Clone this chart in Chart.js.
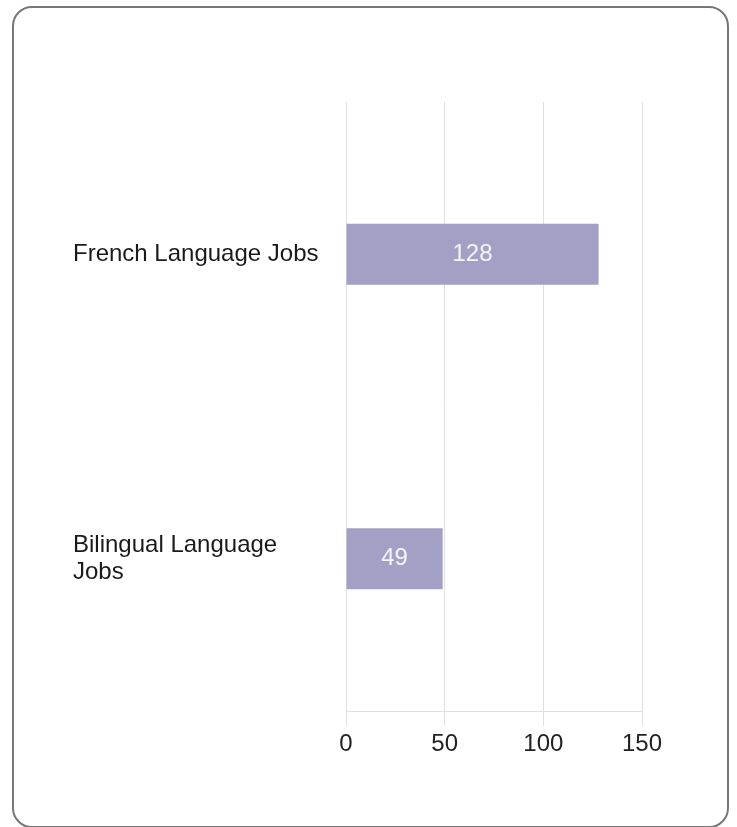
<!DOCTYPE html>
<html>
<head>
<meta charset="utf-8">
<script src="https://cdn.jsdelivr.net/npm/chart.js@4"></script>
<style>
  body { margin: 0; background: #fff; }
  .card {
    position: absolute; left: 12px; top: 6px;
    width: 717px; height: 822px; box-sizing: border-box;
    border: 2px solid #777; border-radius: 20px;
  }
  #chart { position: absolute; left: 0; top: 0; }
</style>
</head>
<body>
<div class="card"></div>
<canvas id="chart" width="737" height="827"></canvas>
<script>
// --- Dades ---
const categories = ['French Language Jobs', ['Bilingual Language', 'Jobs']];
const jobCounts = [128, 49];
const xTicks = [0, 50, 100, 150];

const FONT = '"Liberation Sans", Arial, sans-serif';
const GRID = '#e0e0e0';

// etiquetes de valor dins de les barres
const barLabels = {
    id: 'barLabels',
    afterDatasetsDraw(chart) {
        const ctx = chart.ctx;
        const meta = chart.getDatasetMeta(0);
        ctx.save();
        ctx.font = '24px ' + FONT;
        ctx.fillStyle = '#f4f4f8';
        ctx.textAlign = 'center';
        ctx.textBaseline = 'middle';
        meta.data.forEach((bar, i) => {
            const cx = (bar.x + bar.base) / 2;
            ctx.fillText(String(jobCounts[i]), cx, bar.y);
        });
        ctx.restore();
    }
};

new Chart(document.getElementById('chart'), {
    type: 'bar',
    data: {
        labels: categories,
        datasets: [{
            data: jobCounts,
            backgroundColor: '#a2a1c5',
            borderWidth: 0,
            barPercentage: 0.2,
            categoryPercentage: 1,
        }]
    },
    options: {
        indexAxis: 'y',
        responsive: false,
        animation: false,
        layout: { padding: { left: 73, top: 102, right: 95, bottom: 56 } },
        plugins: { legend: { display: false }, tooltip: { enabled: false } },
        scales: {
            x: {
                min: 0, max: 150,
                afterBuildTicks: s => { s.ticks = xTicks.map(v => ({ value: v })); },
                afterFit: s => { s.height = 60; },
                grid: { color: GRID, tickLength: 15, lineWidth: 1 },
                border: { color: GRID },
                ticks: { color: '#222', padding: 4, font: { family: FONT, size: 24 } }
            },
            y: {
                afterFit: s => { s.width = 273; },
                grid: { display: false },
                border: { display: false },
                ticks: {
                    crossAlign: 'far',
                    color: '#1a1a1a',
                    font: { family: FONT, size: 24, lineHeight: 1.15 }
                }
            }
        }
    },
    plugins: [barLabels]
});
</script>
</body>
</html>
